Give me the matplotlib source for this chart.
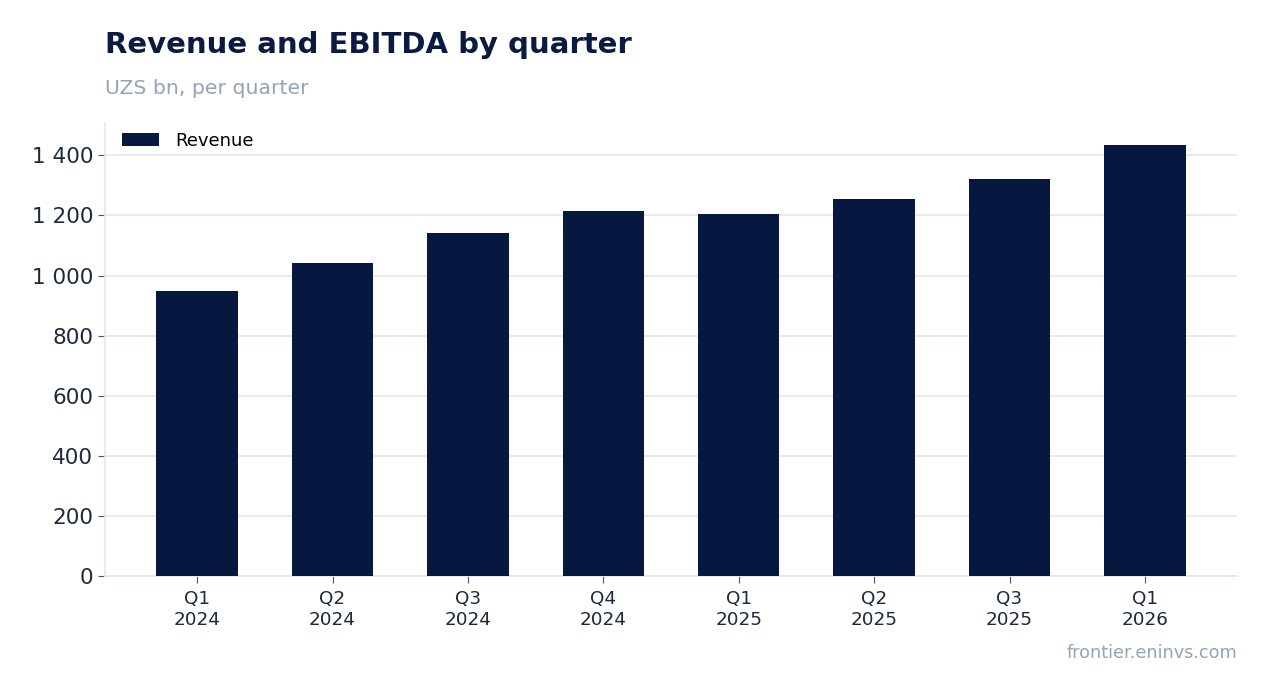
import matplotlib.pyplot as plt
from matplotlib.ticker import FuncFormatter

plt.rcParams['font.family'] = ['DejaVu Sans']

# data
quarters = ['Q1\n2024', 'Q2\n2024', 'Q3\n2024', 'Q4\n2024',
            'Q1\n2025', 'Q2\n2025', 'Q3\n2025', 'Q1\n2026']
revenue = [949, 1042, 1142, 1216, 1206, 1256, 1322, 1436]

navy = '#061740'
grid_col = '#e2e8f0'
muted = '#94a3b8'
text_col = '#1e293b'

fig = plt.figure(figsize=(12.67, 6.93), dpi=100)
ax = fig.add_axes([0.0829, 0.1688, 0.8934, 0.6537])

x = range(len(quarters))
ax.bar(x, revenue, width=0.6, color=navy, label='Revenue', zorder=3)

ax.set_xticks(list(x))
ax.set_xticklabels(quarters, fontsize=13.2, color=text_col, linespacing=1.2)
ax.yaxis.set_major_formatter(FuncFormatter(lambda v, p: f'{int(v):,}'.replace(',', ' ')))
ax.set_yticks(range(0, 1401, 200))
ax.tick_params(axis='y', labelsize=15.5, colors='#475569', labelcolor=text_col, length=5)
ax.tick_params(axis='x', colors='#475569', labelcolor=text_col, length=5, pad=5)

ax.grid(axis='y', color=grid_col, linewidth=1.2, zorder=0)
for s in ['top', 'right']:
    ax.spines[s].set_visible(False)
for s in ['left', 'bottom']:
    ax.spines[s].set_color(grid_col)
    ax.spines[s].set_linewidth(1.2)

ax.legend(loc='upper left', bbox_to_anchor=(0.009, 0.996), frameon=False,
          fontsize=13, handlelength=2.05, handleheight=0.72,
          handletextpad=0.9, borderaxespad=0)

fig.text(0.0829, 0.923, 'Revenue and EBITDA by quarter', fontsize=21,
         fontweight='bold', color='#0a1a40', ha='left', va='baseline')
fig.text(0.0829, 0.864, 'UZS bn, per quarter', fontsize=14.7, color=muted,
         ha='left', va='baseline')
fig.text(0.9763, 0.05, 'frontier.eninvs.com', fontsize=12.7, color=muted,
         ha='right', va='baseline')

plt.savefig('out.png', dpi=100)
